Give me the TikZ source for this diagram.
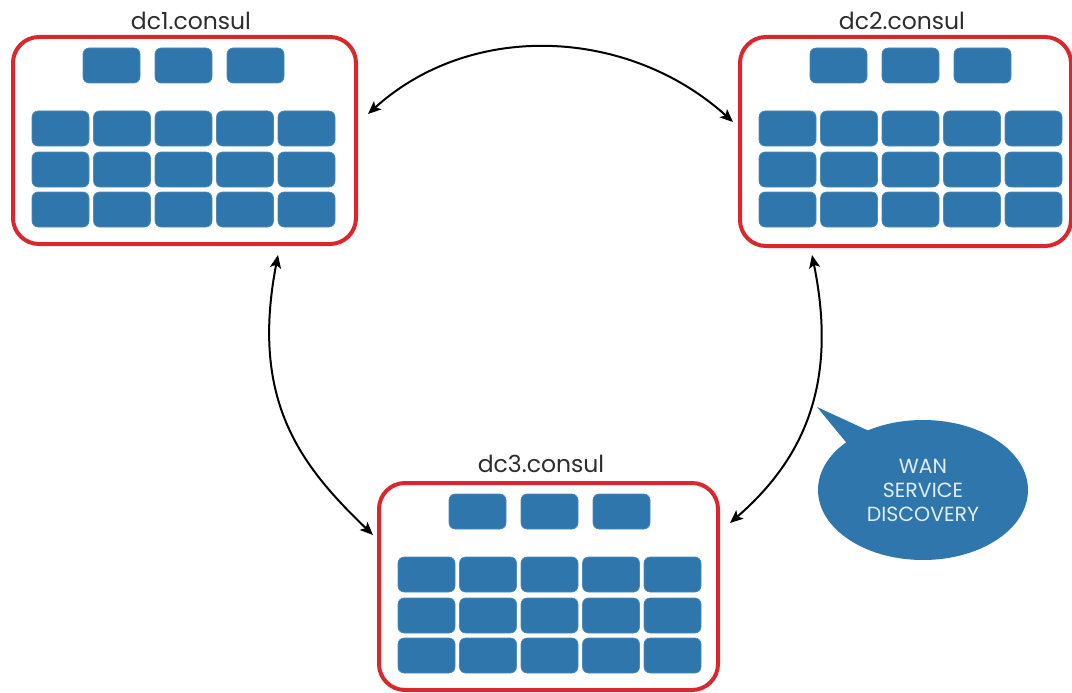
\documentclass[tikz,border=0pt]{standalone}
\usepackage{fontspec}
\setmainfont{Poppins}
\usetikzlibrary{arrows.meta,shapes.geometric}
\definecolor{tileblue}{RGB}{46,118,171}
\definecolor{dcred}{RGB}{218,38,45}
\definecolor{labelgray}{RGB}{45,45,45}
\definecolor{bubbletext}{RGB}{225,238,248}
\tikzset{
  dcbox/.style={draw=dcred, line width=4pt, rounded corners=26pt, anchor=north west, inner sep=0pt, outer sep=0pt, fill=white},
  tile/.style={fill=tileblue, draw=tileblue!85!white, line width=0.6pt, rounded corners=6pt, minimum width=57pt, minimum height=35pt, inner sep=0pt, outer sep=0pt, anchor=north west},
  dclabel/.style={text=labelgray, font=\fontsize{23.5}{26}\selectfont, inner sep=0pt},
  conn/.style={line width=2pt, black, {Stealth[length=13pt,width=11pt,inset=3pt]}-{Stealth[length=13pt,width=11pt,inset=3pt]}},
  bubble/.style={ellipse, fill=tileblue, minimum width=210pt, minimum height=140pt, inner sep=0pt, align=center, text=bubbletext, font=\fontsize{20.5}{24}\selectfont},
}
\newcommand\drawdc[5]{% name, left, top, width, height
  \node[dcbox, minimum width=#4pt, minimum height=#5pt] (#1) at (#2,#3) {};
  \foreach \i/\dx in {1/70,2/142,3/214} {\node[tile] (#1-s\i) at ({#2+\dx},{#3+11}) {};}
  \foreach \r/\dy in {1/74,2/115,3/155} {
    \foreach \c in {1,...,5} {
      \node[tile] (#1-c\r\c) at ({#2+19+61.5*(\c-1)},{#3+\dy}) {};
    }
  }
}
\begin{document}
\begin{tikzpicture}[x=1pt, y=-1pt]
  \useasboundingbox (0,0) rectangle (1072,693);
  \fill[white] (0,0) rectangle (1072,693);

  % data centres
  \drawdc{dc1}{13}{37}{343}{207}
  \drawdc{dc2}{740}{37}{331}{209}
  \drawdc{dc3}{379}{483}{339}{207}

  % labels
  \node[dclabel] (l1) at (191,20.5) {dc1.consul};
  \node[dclabel] (l2) at (902,20.5) {dc2.consul};
  \node[dclabel] (l3) at (541,463.5) {dc3.consul};

  % connector end points
  \coordinate (a1) at ([shift={(12,-26.5)}]dc1.east);
  \coordinate (a2) at ([shift={(-7,-19.5)}]dc2.west);
  \coordinate (b1) at ([shift={(93.5,11)}]dc1.south);
  \coordinate (b2) at ([shift={(-6,-51.5)}]dc3.west);
  \coordinate (c1) at ([shift={(-93.5,9)}]dc2.south);
  \coordinate (c2) at ([shift={(12,-63.5)}]dc3.east);

  \draw[conn] (a1) .. controls (472,20) and (629,28) .. (a2);
  \draw[conn] (b1) .. controls (250,400) and (300,465) .. (b2);
  \draw[conn] (c1) .. controls (838,382) and (805,458) .. (c2);

  % callout
  \coordinate (bc) at (925,492);
  \coordinate (ptip) at (817,407);
  \fill[tileblue] (ptip) -- ([shift={(-75,-45)}]bc) -- ([shift={(-43,-55)}]bc) -- cycle;
  \node[bubble] (bub) at ([shift={(-2,-2)}]bc) {WAN\\SERVICE\\DISCOVERY};
\end{tikzpicture}
\end{document}
